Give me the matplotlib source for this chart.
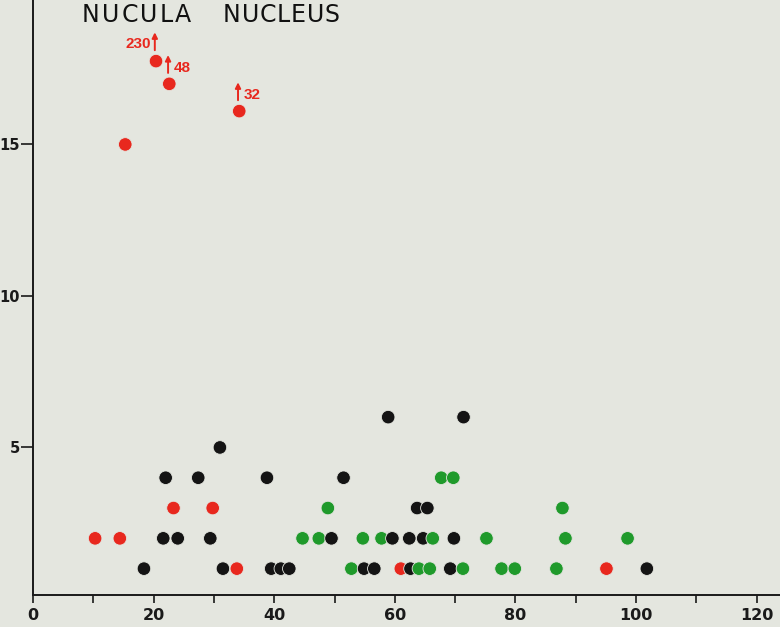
import numpy as np
import matplotlib.pyplot as plt

# colour groups (x, y)
black_x = [58.9, 71.4, 31.0, 22.0, 27.4, 38.8, 51.5, 63.7, 65.4,
           21.6, 24.0, 29.4, 49.5, 59.6, 62.4, 64.7, 69.8,
           18.4, 31.5, 39.5, 41.1, 42.5, 54.9, 56.6, 62.6, 69.2, 101.8]
black_y = [6, 6, 5, 4, 4, 4, 4, 3, 3,
           2, 2, 2, 2, 2, 2, 2, 2,
           1, 1, 1, 1, 1, 1, 1, 1, 1, 1]

red_x = [15.3, 20.4, 22.6, 34.2, 23.3, 29.8, 10.3, 14.4, 33.8, 61.0, 95.1]
red_y = [15.0, 17.75, 17.0, 16.1, 3, 3, 2, 2, 1, 1, 1]

green_x = [67.7, 69.7, 48.9, 87.8,
           44.7, 47.4, 54.7, 57.8, 66.3, 75.2, 88.3, 98.6,
           52.8, 64.0, 65.8, 71.3, 77.7, 79.9, 86.8]
green_y = [4, 4, 3, 3,
           2, 2, 2, 2, 2, 2, 2, 2,
           1, 1, 1, 1, 1, 1, 1]

# off-scale values written next to the top red points
offscale_x = [20.4, 22.6, 34.2]
offscale_y = [17.75, 17.0, 16.1]
offscale_lbl = ['230', '48', '32']

title_words = ['NUCULA', 'NUCLEUS']
xticks = np.arange(0, 121, 10)
yticks = [5, 10, 15]

BG = '#e4e6df'
RED = '#e8281e'
GREEN = '#1f9a2b'
BLACK = '#141414'

W, H = 780, 627
fig = plt.figure(figsize=(W / 100, H / 100), dpi=100, facecolor=BG)
ax = fig.add_axes([33 / W, (H - 595) / H, 1 - 33 / W, 595 / H])
ax.set_facecolor(BG)

# draw everything left to right so overlaps stack like in the print
xs = np.array(black_x + red_x + green_x)
ys = np.array(black_y + red_y + green_y)
cs = np.array([BLACK] * len(black_x) + [RED] * len(red_x) + [GREEN] * len(green_x))
order = np.argsort(xs, kind='stable')
ax.scatter(xs[order], ys[order], c=cs[order], s=95, edgecolors=BG,
           linewidths=0.6, zorder=3, clip_on=False)

narrow = ['Liberation Sans Narrow', 'Liberation Sans', 'DejaVu Sans']
for x, y, lbl in zip(offscale_x, offscale_y, offscale_lbl):
    ax.annotate('', xy=(x - 0.2, y + 0.95), xytext=(x - 0.2, y + 0.36),
                arrowprops=dict(arrowstyle='-|>', color=RED, lw=1.4,
                                mutation_scale=8, shrinkA=0, shrinkB=0))
    if lbl == '230':
        ax.annotate(lbl, xy=(x, y), xytext=(-5, 17), textcoords='offset pixels',
                    ha='right', va='center', color=RED, fontsize=11,
                    fontweight='bold', family=narrow)
    else:
        ax.annotate(lbl, xy=(x, y), xytext=(4, 16), textcoords='offset pixels',
                    ha='left', va='center', color=RED, fontsize=11,
                    fontweight='bold', family=narrow)

# title with a little extra letter spacing, as printed
def spaced(word, x0, y0, gap):
    x = x0
    for ch in word:
        t = fig.text(x / W, 1 - y0 / H, ch, ha='left', va='center',
                     fontsize=17, color='#111111', family='DejaVu Sans')
        bb = t.get_window_extent(renderer=fig.canvas.get_renderer())
        x += bb.width + gap

spaced(title_words[0], 82, 15, 2.2)
spaced(title_words[1], 223, 15, 0.8)

ax.set_xlim(0, (W - 33) / 6.03)
ax.set_ylim(0.13, 0.13 + 595 / 30.3)
ax.set_xticks(xticks)
ax.set_xticklabels([str(t) if t % 20 == 0 else '' for t in xticks])
ax.set_yticks(yticks)
ax.set_yticklabels([str(t) for t in yticks])

for s in ['top', 'right']:
    ax.spines[s].set_visible(False)
for s in ['left', 'bottom']:
    ax.spines[s].set_linewidth(1.4)
    ax.spines[s].set_color('#1a1a1a')

ax.tick_params(axis='x', direction='out', length=6, width=1.2, pad=3,
               labelsize=11.5, colors='#1a1a1a')
ax.tick_params(axis='y', direction='out', length=8.5, width=1.2, pad=1,
               labelsize=10.5, colors='#1a1a1a')
for lab in ax.get_xticklabels() + ax.get_yticklabels():
    lab.set_fontweight('bold')
    lab.set_family('DejaVu Sans')

fig.savefig('out.png', dpi=100, facecolor=BG)
